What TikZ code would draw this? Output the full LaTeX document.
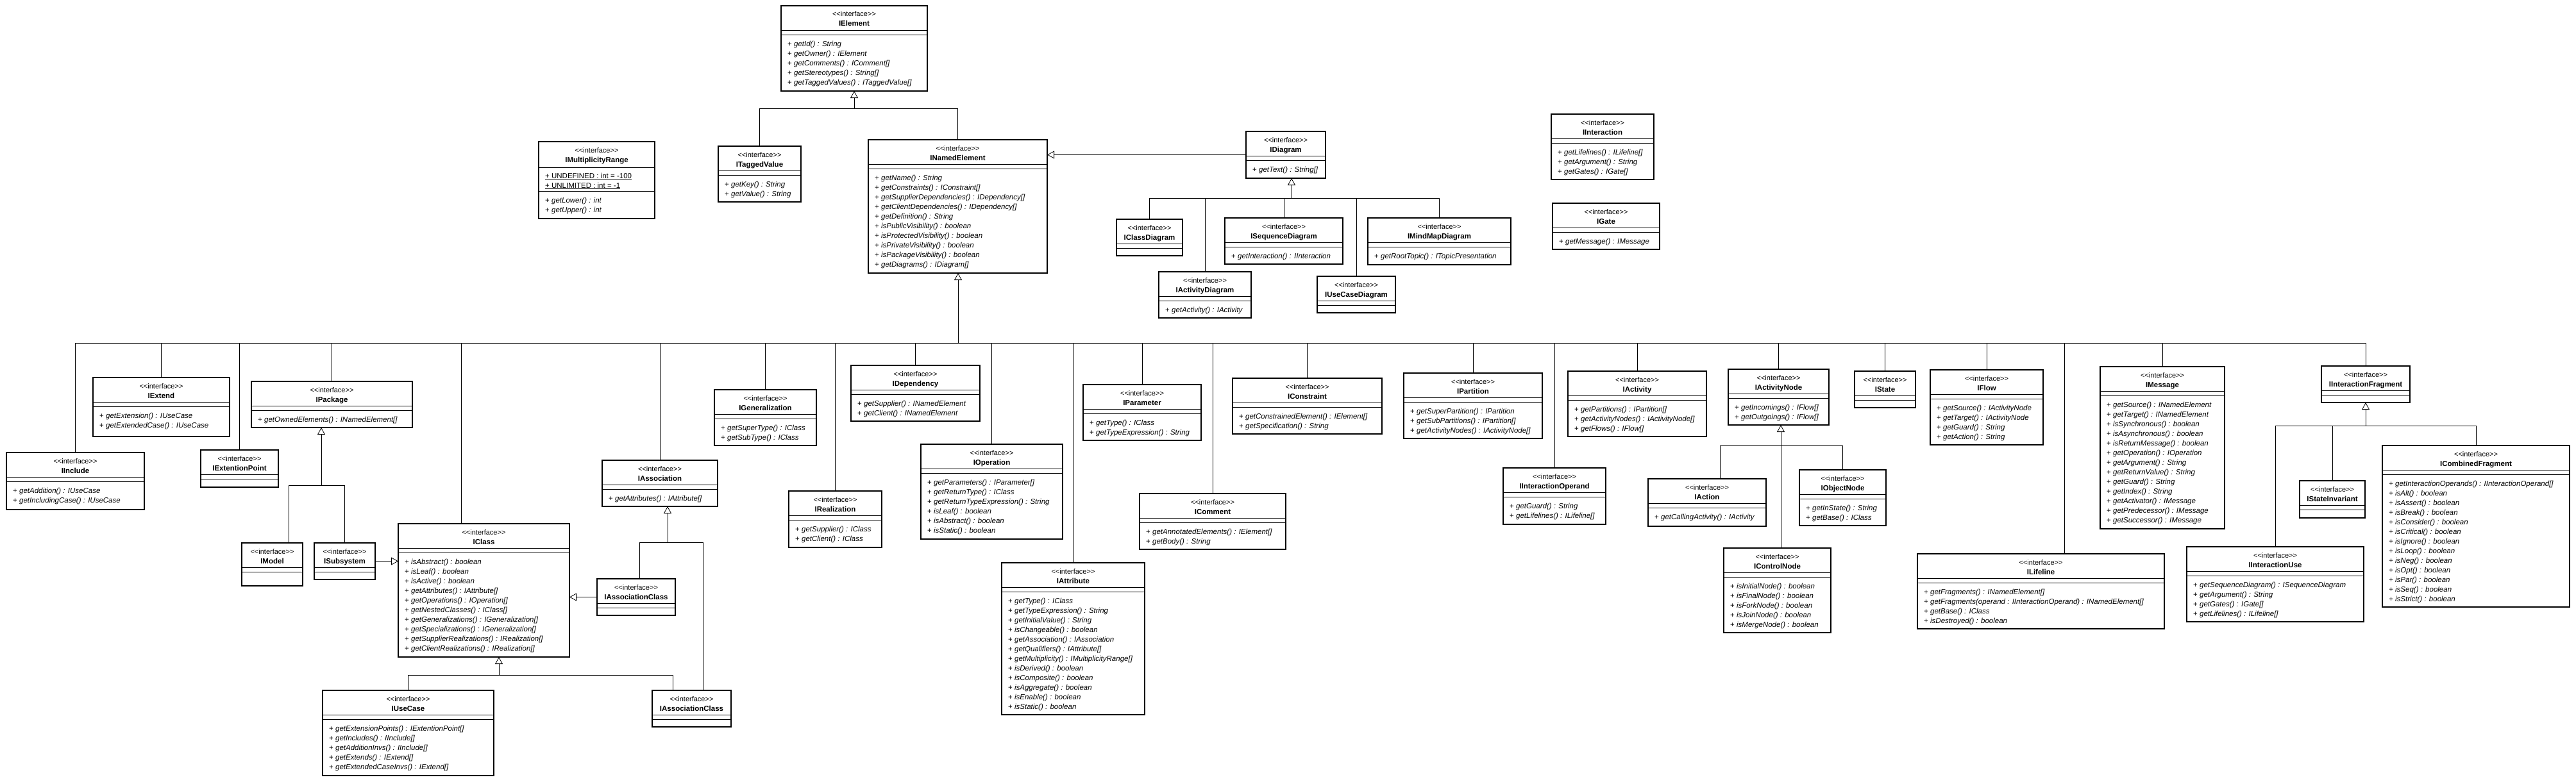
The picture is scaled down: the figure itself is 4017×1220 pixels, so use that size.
\documentclass[tikz,border=0pt]{standalone}
\usepackage{fontspec}
\setmainfont{Liberation Sans}
\usetikzlibrary{arrows.meta}

\tikzset{
  ifbox/.style={draw, rectangle, line width=1.6pt, inner sep=0, outer sep=0, fill=white},
  stereo/.style={anchor=base, inner sep=0, font=\fontsize{11}{13}\selectfont},
  ifname/.style={anchor=base, inner sep=0, font=\fontsize{11.5}{13}\selectfont\bfseries},
  method/.style={anchor=base west, inner sep=0, font=\fontsize{11.5}{15}\selectfont},
  sepline/.style={line width=0.8pt},
  link/.style={line width=0.8pt},
  gen/.style={-{Triangle[open,length=11pt,width=12pt]}, line width=0.8pt}
}

% #1 name, #2 left, #3 top, #4 right, #5 bottom, #6 title, #7 operations
\newcommand{\iface}[7]{%
  \node[ifbox, minimum width={(#4-#2)*1pt}, minimum height={(#5-#3)*1pt}] (#1) at ({(#2+#4)/2},{(#3+#5)/2}) {};
  \node[stereo] at ([yshift=-17pt]#1.north) {<{}<interface>{}>};
  \node[ifname] at ([yshift=-32pt]#1.north) {#6};
  \draw[sepline] ([yshift=-38pt]#1.north west) -- ([yshift=-38pt]#1.north east)
                 ([yshift=-45.5pt]#1.north west) -- ([yshift=-45.5pt]#1.north east);
  \if\relax\detokenize{#7}\relax\else
    \foreach \mth [count=\k] in {#7}
      \node[method] at ([xshift=10pt,yshift={-48.5pt-15pt*\k}]#1.north west) {+ \textit{\mth}};
  \fi
}

\begin{document}
\begin{tikzpicture}[x=1pt,y=-1pt]
  \fill[white] (0,0) rectangle (4017,1220);

  % top part
  \iface{IElement}{1218}{9}{1446}{142}{IElement}{getId() : String,getOwner() : IElement,getComments() : IComment[],getStereotypes() : String[],getTaggedValues() : ITaggedValue[]}
  \iface{ITaggedValue}{1120}{228}{1249}{315}{ITaggedValue}{getKey() : String,getValue() : String}
  \iface{INamedElement}{1354}{218}{1633}{426}{INamedElement}{getName() : String,getConstraints() : IConstraint[],getSupplierDependencies() : IDependency[],getClientDependencies() : IDependency[],getDefinition() : String,isPublicVisibility() : boolean,isProtectedVisibility() : boolean,isPrivateVisibility() : boolean,isPackageVisibility() : boolean,getDiagrams() : IDiagram[]}

  \node[ifbox, minimum width=181pt, minimum height=120pt] (IMultiplicityRange) at (930.5,281) {};
  \node[stereo] at ([yshift=-17pt]IMultiplicityRange.north) {<{}<interface>{}>};
  \node[ifname] at ([yshift=-32pt]IMultiplicityRange.north) {IMultiplicityRange};
  \draw[sepline] ([yshift=-40pt]IMultiplicityRange.north west) -- ([yshift=-40pt]IMultiplicityRange.north east)
                 ([yshift=-77pt]IMultiplicityRange.north west) -- ([yshift=-77pt]IMultiplicityRange.north east);
  \node[method] at ([xshift=10pt,yshift=-57pt]IMultiplicityRange.north west) {\underline{+ UNDEFINED : int = -100}};
  \node[method] at ([xshift=10pt,yshift=-72pt]IMultiplicityRange.north west) {\underline{+ UNLIMITED : int = -1}};
  \node[method] at ([xshift=10pt,yshift=-95pt]IMultiplicityRange.north west) {+ \textit{getLower() : int}};
  \node[method] at ([xshift=10pt,yshift=-110pt]IMultiplicityRange.north west) {+ \textit{getUpper() : int}};

  \iface{IDiagram}{1943}{205}{2067}{278}{IDiagram}{getText() : String[]}
  \iface{IClassDiagram}{1741}{342}{1844}{399}{IClassDiagram}{}
  \iface{ISequenceDiagram}{1910}{340}{2094}{412}{ISequenceDiagram}{getInteraction() : IInteraction}
  \iface{IMindMapDiagram}{2133}{340}{2356}{413}{IMindMapDiagram}{getRootTopic() : ITopicPresentation}
  \iface{IActivityDiagram}{1807}{424}{1951}{496}{IActivityDiagram}{getActivity() : IActivity}
  \iface{IUseCaseDiagram}{2054}{431}{2176}{488}{IUseCaseDiagram}{}
  \iface{IInteraction}{2419}{178}{2579}{280}{IInteraction}{getLifelines() : ILifeline[],getArgument() : String,getGates() : IGate[]}
  \iface{IGate}{2421}{317}{2588}{389}{IGate}{getMessage() : IMessage}

  % lower part
  \iface{IInclude}{10}{706}{225}{795}{IInclude}{getAddition() : IUseCase,getIncludingCase() : IUseCase}
  \iface{IExtend}{145}{589}{358}{681}{IExtend}{getExtension() : IUseCase,getExtendedCase() : IUseCase}
  \iface{IExtentionPoint}{313}{702}{434}{760}{IExtentionPoint}{}
  \iface{IPackage}{392}{595}{643}{667}{IPackage}{getOwnedElements() : INamedElement[]}
  \iface{IModel}{377}{847}{472}{914}{IModel}{}
  \iface{ISubsystem}{490}{847}{585}{904}{ISubsystem}{}
  \iface{IClass}{621}{817}{888}{1025}{IClass}{isAbstract() : boolean,isLeaf() : boolean,isActive() : boolean,getAttributes() : IAttribute[],getOperations() : IOperation[],getNestedClasses() : IClass[],getGeneralizations() : IGeneralization[],getSpecializations() : IGeneralization[],getSupplierRealizations() : IRealization[],getClientRealizations() : IRealization[]}
  \iface{IUseCase}{503}{1077}{770}{1210}{IUseCase}{getExtensionPoints() : IExtentionPoint[],getIncludes() : IInclude[],getAdditionInvs() : IInclude[],getExtends() : IExtend[],getExtendedCaseInvs() : IExtend[]}
  \iface{IAssociation}{939}{718}{1119}{790}{IAssociation}{getAttributes() : IAttribute[]}
  \iface{IAssocClassA}{931}{903}{1053}{960}{IAssociationClass}{}
  \iface{IAssocClassB}{1017}{1077}{1140}{1134}{IAssociationClass}{}
  \iface{IGeneralization}{1114}{608}{1273}{695}{IGeneralization}{getSuperType() : IClass,getSubType() : IClass}
  \iface{IRealization}{1230}{766}{1375}{854}{IRealization}{getSupplier() : IClass,getClient() : IClass}
  \iface{IDependency}{1327}{570}{1528}{657}{IDependency}{getSupplier() : INamedElement,getClient() : INamedElement}
  \iface{IOperation}{1436}{693}{1657}{841}{IOperation}{getParameters() : IParameter[],getReturnType() : IClass,getReturnTypeExpression() : String,isLeaf() : boolean,isAbstract() : boolean,isStatic() : boolean}
  \iface{IAttribute}{1562}{878}{1785}{1115}{IAttribute}{getType() : IClass,getTypeExpression() : String,getInitialValue() : String,isChangeable() : boolean,getAssociation() : IAssociation,getQualifiers() : IAttribute[],getMultiplicity() : IMultiplicityRange[],isDerived() : boolean,isComposite() : boolean,isAggregate() : boolean,isEnable() : boolean,isStatic() : boolean}
  \iface{IParameter}{1689}{600}{1873}{687}{IParameter}{getType() : IClass,getTypeExpression() : String}
  \iface{IComment}{1777}{770}{2005}{857}{IComment}{getAnnotatedElements() : IElement[],getBody() : String}
  \iface{IConstraint}{1922}{590}{2155}{677}{IConstraint}{getConstrainedElement() : IElement[],getSpecification() : String}
  \iface{IPartition}{2189}{582}{2405}{684}{IPartition}{getSuperPartition() : IPartition,getSubPartitions() : IPartition[],getActivityNodes() : IActivityNode[]}
  \iface{IInteractionOperand}{2344}{730}{2504}{818}{IInteractionOperand}{getGuard() : String,getLifelines() : ILifeline[]}
  \iface{IActivity}{2445}{579}{2661}{681}{IActivity}{getPartitions() : IPartition[],getActivityNodes() : IActivityNode[],getFlows() : IFlow[]}
  \iface{IActivityNode}{2695}{576}{2852}{663}{IActivityNode}{getIncomings() : IFlow[],getOutgoings() : IFlow[]}
  \iface{IAction}{2570}{747}{2754}{821}{IAction}{getCallingActivity() : IActivity}
  \iface{IObjectNode}{2806}{733}{2941}{820}{IObjectNode}{getInState() : String,getBase() : IClass}
  \iface{IControlNode}{2688}{855}{2855}{987}{IControlNode}{isInitialNode() : boolean,isFinalNode() : boolean,isForkNode() : boolean,isJoinNode() : boolean,isMergeNode() : boolean}
  \iface{IState}{2892}{579}{2987}{636}{IState}{}
  \iface{IFlow}{3010}{577}{3186}{694}{IFlow}{getSource() : IActivityNode,getTarget() : IActivityNode,getGuard() : String,getAction() : String}
  \iface{ILifeline}{2990}{864}{3375}{981}{ILifeline}{getFragments() : INamedElement[],getFragments(operand : IInteractionOperand) : INamedElement[],getBase() : IClass,isDestroyed() : boolean}
  \iface{IMessage}{3275}{572}{3469}{825}{IMessage}{getSource() : INamedElement,getTarget() : INamedElement,isSynchronous() : boolean,isAsynchronous() : boolean,isReturnMessage() : boolean,getOperation() : IOperation,getArgument() : String,getReturnValue() : String,getGuard() : String,getIndex() : String,getActivator() : IMessage,getPredecessor() : IMessage,getSuccessor() : IMessage}
  \iface{IInteractionFragment}{3620}{571}{3758}{628}{IInteractionFragment}{}
  \iface{IStateInvariant}{3586}{750}{3688}{808}{IStateInvariant}{}
  \iface{IInteractionUse}{3410}{853}{3686}{970}{IInteractionUse}{getSequenceDiagram() : ISequenceDiagram,getArgument() : String,getGates() : IGate[],getLifelines() : ILifeline[]}
  \iface{ICombinedFragment}{3715}{695}{4007}{947}{ICombinedFragment}{getInteractionOperands() : IInteractionOperand[],isAlt() : boolean,isAssert() : boolean,isBreak() : boolean,isConsider() : boolean,isCritical() : boolean,isIgnore() : boolean,isLoop() : boolean,isNeg() : boolean,isOpt() : boolean,isPar() : boolean,isSeq() : boolean,isStrict() : boolean}

  % generalizations
  \coordinate (elemjoint) at (1332,169);
  \draw[gen] (elemjoint) -- (elemjoint |- IElement.south);
  \foreach \c in {ITaggedValue,INamedElement}
    \draw[link] (\c.north) |- (elemjoint);

  \draw[gen] (IDiagram.west) -- (IDiagram.west -| INamedElement.east);

  \coordinate (diagjoint) at (2014,309);
  \draw[gen] (diagjoint) -- (diagjoint |- IDiagram.south);
  \foreach \c in {IClassDiagram,IActivityDiagram,ISequenceDiagram,IUseCaseDiagram,IMindMapDiagram}
    \draw[link] (\c.north) |- (diagjoint);

  \coordinate (nejoint) at (1494,535);
  \draw[gen] (nejoint) -- (nejoint |- INamedElement.south);
  \foreach \c in {IInclude,IExtend,IExtentionPoint,IPackage,IAssociation,IGeneralization,IRealization,IDependency,IOperation,IAttribute,IParameter,IComment,IConstraint,IPartition,IInteractionOperand,IActivity,IActivityNode,IState,IFlow,IMessage,IInteractionFragment}
    \draw[link] (\c.north) |- (nejoint);
  \draw[link] ([xshift=-35pt]IClass.north) |- (nejoint);
  \draw[link] ([xshift=36.5pt]ILifeline.north) |- (nejoint);

  \coordinate (pkgjoint) at (501,757);
  \draw[gen] (pkgjoint) -- (pkgjoint |- IPackage.south);
  \draw[link] ([xshift=25.5pt]IModel.north) |- (pkgjoint);
  \draw[link] (ISubsystem.north) |- (pkgjoint);
  \draw[gen] (ISubsystem.east) -- (ISubsystem.east -| IClass.west);

  \coordinate (assocjoint) at (1041,846);
  \draw[gen] (assocjoint) -- (assocjoint |- IAssociation.south);
  \draw[link] ([xshift=5pt]IAssocClassA.north) |- (assocjoint);
  \draw[link] ([xshift=17.5pt]IAssocClassB.north) |- (assocjoint);
  \draw[gen] (IAssocClassA.west) -- (IAssocClassA.west -| IClass.east);

  \coordinate (classjoint) at (778,1053);
  \draw[gen] (classjoint) -- (classjoint |- IClass.south);
  \draw[link] (IUseCase.north) |- (classjoint);
  \draw[link] ([xshift=-29.5pt]IAssocClassB.north) |- (classjoint);

  \coordinate (nodejoint) at (2777,695);
  \draw[gen] (nodejoint) -- (nodejoint |- IActivityNode.south);
  \draw[link] ([xshift=20pt]IAction.north) |- (nodejoint);
  \draw[link] (IObjectNode.north) |- (nodejoint);
  \draw[link] (nodejoint |- IControlNode.north) -- (nodejoint);

  \coordinate (fragjoint) at (3689,664);
  \draw[gen] (fragjoint) -- (IInteractionFragment.south);
  \foreach \c in {IInteractionUse,IStateInvariant,ICombinedFragment}
    \draw[link] (\c.north) |- (fragjoint);
\end{tikzpicture}
\end{document}
